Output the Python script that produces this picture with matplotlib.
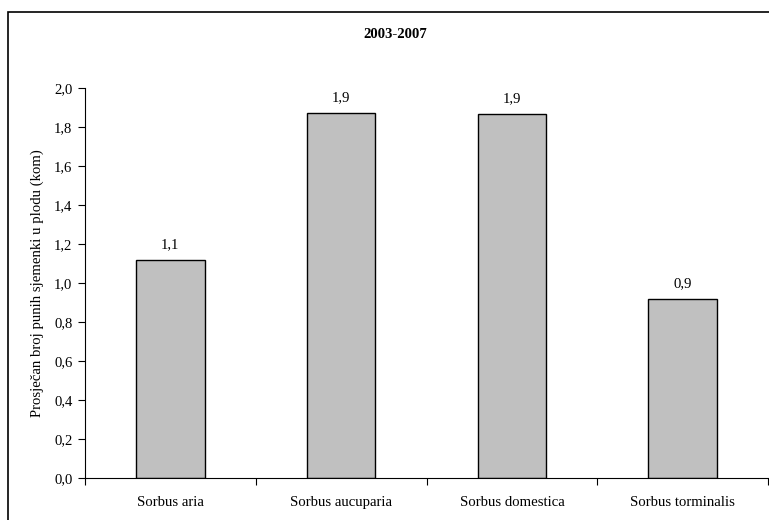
import matplotlib
matplotlib.use("Agg")
import matplotlib.pyplot as plt
from matplotlib.patches import Rectangle

plt.rcParams["font.family"] = ["Liberation Serif", "DejaVu Serif"]

species = ["Sorbus aria", "Sorbus aucuparia", "Sorbus domestica", "Sorbus torminalis"]
seeds = [1.12, 1.87, 1.865, 0.92]
labels = ["1,1", "1,9", "1,9", "0,9"]
yticks = [0.0, 0.2, 0.4, 0.6, 0.8, 1.0, 1.2, 1.4, 1.6, 1.8, 2.0]

FS = 10.6

fig = plt.figure(figsize=(7.69, 5.20), dpi=100)
ax = fig.add_axes([85 / 769, 1 - 478 / 520, 683 / 769, 390 / 520])

x = range(len(species))
ax.bar(x, seeds, width=0.4, color="#c0c0c0", edgecolor="black", linewidth=1.0)
for i, (v, lab) in enumerate(zip(seeds, labels)):
    ax.annotate(lab, (i, v), xytext=(0, 8.5), textcoords="offset points",
                ha="center", va="baseline", fontsize=FS)

ax.set_xlim(-0.5, len(species) - 0.5)
ax.set_ylim(0, 2.0)
ax.set_yticks(yticks)
ax.set_yticklabels([f"{t:.1f}".replace(".", ",") for t in yticks], fontsize=FS)
ax.set_xticks([i - 0.5 for i in range(len(species) + 1)])
ax.set_xticklabels([])
# category names sit between the boundary ticks, on a common baseline
for i, name in enumerate(species):
    ax.text(i, -28 / 390, name, transform=ax.get_xaxis_transform(),
            ha="center", va="baseline", fontsize=FS)
ax.tick_params(axis="x", length=5, direction="out")
ax.tick_params(axis="y", length=5, direction="out", pad=4)
ax.spines["top"].set_visible(False)
ax.spines["right"].set_visible(False)
ax.set_ylabel("Prosječan broj punih sjemenki u plodu (kom)", fontsize=FS, labelpad=7)

fig.text(395 / 769, 1 - 34 / 520, "2003-2007", ha="center", va="center",
         fontsize=FS, fontweight="bold")

fig.patches.append(Rectangle((8 / 769, -0.05), 1.2, 1 - 12 / 520 + 0.05,
                             transform=fig.transFigure, fill=False,
                             edgecolor="black", linewidth=1.2))

fig.savefig("out.png", dpi=100)
